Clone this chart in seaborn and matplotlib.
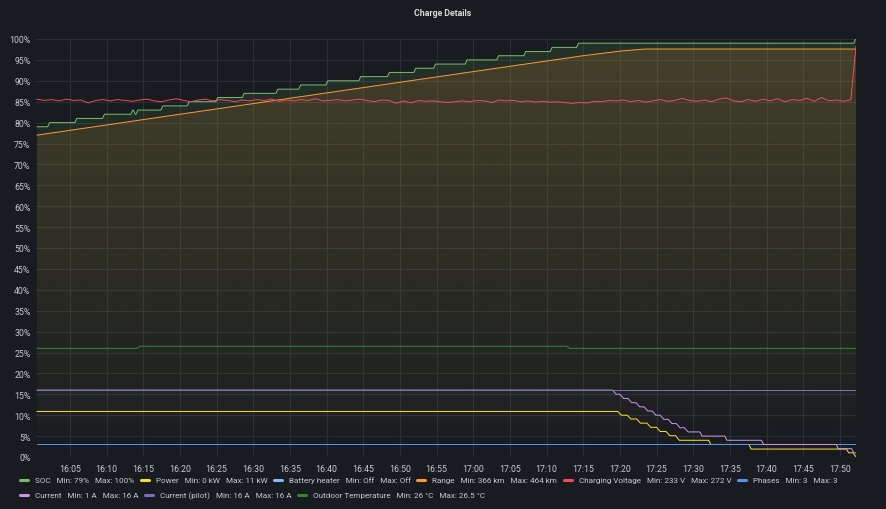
import numpy as np
import pandas as pd
import matplotlib
matplotlib.use("Agg")
import matplotlib.pyplot as plt
import seaborn as sns
from matplotlib.colors import to_rgb
from matplotlib.lines import Line2D
from matplotlib.patches import Polygon

# minutes after 16:00 for every sample, values as shown on the % axis
soc_change_min = [0.5, 1.96, 5.68, 9.45, 13.3, 13.65, 14.0, 17.4, 21.0, 24.9, 28.5, 33.1, 36.2,
                  39.9, 44.4, 48.3, 51.9, 54.6, 58.9, 63.2, 66.9, 70.5, 74.1, 111.9]
soc_values = [79, 80, 81, 82, 83, 82, 83, 84, 85, 86, 87, 88, 89,
              90, 91, 92, 93, 94, 95, 96, 97, 98, 99, 100]

power_min = [0.5, 79.7, 80.2, 81.0, 81.5, 82.3, 82.8, 83.7, 84.2, 85.0, 85.5, 86.3, 86.8, 87.6,
             88.1, 92.1, 92.4, 97.6, 97.9, 110.9, 111.2, 111.8, 112.2]
power_values = [10.9, 10.9, 10.0, 10.0, 9.1, 9.1, 8.1, 8.1, 7.1, 7.1, 6.1, 6.1, 5.1, 5.1,
                4.0, 4.0, 3.0, 3.0, 1.9, 1.9, 1.0, 1.0, 0.0]

heater_min = [0.5, 112.2]
heater_values = [0, 0]

range_min = [0.5, 20.0, 40.0, 60.0, 75.0, 80.0, 83.4, 112.2]
range_values = [77.0, 82.0, 87.1, 92.2, 96.0, 97.1, 97.6, 97.6]

voltage_values = [
    85.6, 85.3, 85.5, 85.2, 85.6, 85.3, 85.4, 84.7, 85.3, 85.5,
    85.2, 85.5, 85.3, 85.1, 85.4, 85.6, 85.2, 85.0, 85.4, 85.7,
    85.3, 85.0, 85.4, 85.6, 85.2, 85.5, 85.3, 85.0, 85.4, 85.2,
    85.5, 85.3, 85.6, 85.1, 85.4, 85.2, 85.5, 85.3, 85.7, 85.2,
    85.3, 85.5, 85.2, 85.4, 85.6, 85.3, 85.0, 85.4, 85.3, 84.6,
    85.2, 84.7, 85.3, 85.1, 85.2, 85.0, 84.8, 85.0, 85.2, 85.0,
    85.3, 85.2, 84.8, 85.4, 85.2, 85.3, 85.0, 85.2, 84.9, 85.1,
    84.9, 85.0, 84.8, 84.6, 84.8, 84.7, 85.1, 85.0, 85.3, 85.2,
    85.4, 85.0, 85.3, 84.9, 85.2, 85.5, 85.1, 85.3, 85.8, 85.3,
    85.1, 85.4, 85.0, 85.6, 85.9, 85.2, 85.0, 85.5, 85.1, 85.6,
    85.2, 85.7, 85.0, 85.5, 85.3, 85.8, 85.1, 86.0, 85.2, 85.4,
    85.1, 85.5,
]
voltage_last_min = 112.2
voltage_last = 98.3

phases_min = [0.5, 112.2]
phases_values = [3, 3]

current_min = [0.5, 79.0, 79.5, 80.0, 80.5, 81.1, 81.6, 82.2, 82.7, 83.3, 83.8, 84.4, 84.9, 85.5,
               86.0, 86.6, 87.1, 87.7, 88.2, 88.8, 89.3, 90.9, 91.2, 94.3, 94.6, 99.3, 99.6,
               109.5, 109.8, 111.6, 111.9, 112.2]
current_values = [16, 16, 15, 15, 14, 14, 13, 13, 12, 12, 11, 11, 10, 10,
                  9, 9, 8, 8, 7, 7, 6, 6, 5, 5, 4, 4, 3,
                  3, 2, 2, 1, 1]

pilot_min = [0.5, 112.2]
pilot_values = [16, 16]

temp_min = [0.5, 14.2, 14.5, 72.8, 73.1, 112.2]
temp_values = [26, 26, 26.5, 26.5, 26, 26]

series_names = ["SOC", "Power", "Battery heater", "Range", "Charging Voltage", "Phases",
                "Current", "Current (pilot)", "Outdoor Temperature"]
series_colors = ["#73BF69", "#FADE2A", "#8AB8FF", "#FF9830", "#F2495C", "#5794F2",
                 "#CA95E5", "#806EB7", "#37872D"]
fill_opacity = [0.14, 0.14, 0.14, 0.15, 0.0, 0.14, 0.14, 0.14, 0.14]
legend_texts = ["SOC   Min: 79%   Max: 100%", "Power   Min: 0 kW   Max: 11 kW",
                "Battery heater   Min: Off   Max: Off", "Range   Min: 366 km   Max: 464 km",
                "Charging Voltage   Min: 233 V   Max: 272 V", "Phases   Min: 3   Max: 3",
                "Current   Min: 1 A   Max: 16 A", "Current (pilot)   Min: 16 A   Max: 16 A",
                "Outdoor Temperature   Min: 26 °C   Max: 26.5 °C"]
legend_rows = [6, 3]

BG = "#181b1f"
TEXT = "#c7c9d1"
GRID = "#2b2e34"


def soc_corners(times, values):
    xs, ys = [times[0]], [values[0]]
    for i in range(1, len(times)):
        xs += [times[i], times[i] + 0.25]
        ys += [values[i - 1], values[i]]
    xs.append(112.2)
    ys.append(values[-1])
    return xs, ys


voltage_min = list(np.arange(0.5, 0.5 + len(voltage_values), 1.0)) + [voltage_last_min]
soc_x, soc_y = soc_corners(soc_change_min, soc_values)

points = {
    "SOC": (soc_x, soc_y),
    "Power": (power_min, power_values),
    "Battery heater": (heater_min, heater_values),
    "Range": (range_min, range_values),
    "Charging Voltage": (voltage_min, voltage_values + [voltage_last]),
    "Phases": (phases_min, phases_values),
    "Current": (current_min, current_values),
    "Current (pilot)": (pilot_min, pilot_values),
    "Outdoor Temperature": (temp_min, temp_values),
}

frames = []
for name in series_names:
    xs, ys = points[name]
    frames.append(pd.DataFrame({"minute": xs, "value": ys, "series": name}))
df = pd.concat(frames, ignore_index=True)

sns.set_theme(style="dark")
plt.rcParams["font.family"] = ["Roboto", "DejaVu Sans"]

W, H = 886, 510
fig = plt.figure(figsize=(W / 100, H / 100), dpi=100, facecolor=BG)
ax = fig.add_axes([36 / W, 1 - 458 / H, (856 - 36) / W, (458 - 40) / H])
ax.set_facecolor(BG)

XMIN, XMAX = 0.37, 112.2

# opacity gradient fills (transparent at the bottom of the axis)
for name, color, op in zip(series_names, series_colors, fill_opacity):
    if op == 0:
        continue
    xs, ys = points[name]
    verts = [(xs[0], 0)] + list(zip(xs, ys)) + [(xs[-1], 0)]
    poly = Polygon(verts, closed=True, facecolor="none", edgecolor="none")
    ax.add_patch(poly)
    grad = np.zeros((256, 1, 4))
    grad[..., :3] = to_rgb(color)
    grad[..., 3] = np.linspace(0, op, 256)[:, None]
    im = ax.imshow(grad, aspect="auto", origin="lower", extent=[XMIN, XMAX, 0, 100],
                   zorder=1, interpolation="bilinear")
    im.set_clip_path(poly)

sns.lineplot(data=df, x="minute", y="value", hue="series", hue_order=series_names,
             palette=series_colors, estimator=None, sort=False, legend=False,
             linewidth=0.72, ax=ax, zorder=3)

ax.set_xlim(XMIN, XMAX)
ax.set_ylim(0, 100)
ax.set_yticks(range(0, 101, 5))
ax.set_yticklabels([f"{v}%" for v in range(0, 101, 5)])
xt = list(range(5, 111, 5))
ax.set_xticks(xt)
ax.set_xticklabels([f"{16 + m // 60}:{m % 60:02d}" for m in xt])
ax.set_xlabel("")
ax.set_ylabel("")
ax.tick_params(length=0, labelsize=6.3, colors=TEXT, pad=4)
ax.tick_params(axis="x", pad=5)
ax.grid(True, color=GRID, linewidth=0.8)
ax.set_axisbelow(True)
for s in ax.spines.values():
    s.set_visible(False)

fig.text(443 / W, 1 - 13 / H, "Charge Details", ha="center", va="center",
         fontsize=6.3, fontweight="bold", color="#d8d9da")

# legend laid out in rows like the dashboard
fig.canvas.draw()
renderer = fig.canvas.get_renderer()
idx = 0
for row, count in enumerate(legend_rows):
    y = 1 - (481 + row * 15) / H
    x = 20
    for _ in range(count):
        fig.add_artist(Line2D([x / W, (x + 8) / W], [y, y], color=series_colors[idx],
                              linewidth=2.2, solid_capstyle="round", transform=fig.transFigure))
        t = fig.text((x + 15) / W, y, legend_texts[idx], ha="left", va="center",
                     fontsize=5.9, color=TEXT)
        width = t.get_window_extent(renderer).width
        x = x + 15 + width + 6.5
        idx += 1

fig.savefig("out.png", dpi=100, facecolor=BG)
